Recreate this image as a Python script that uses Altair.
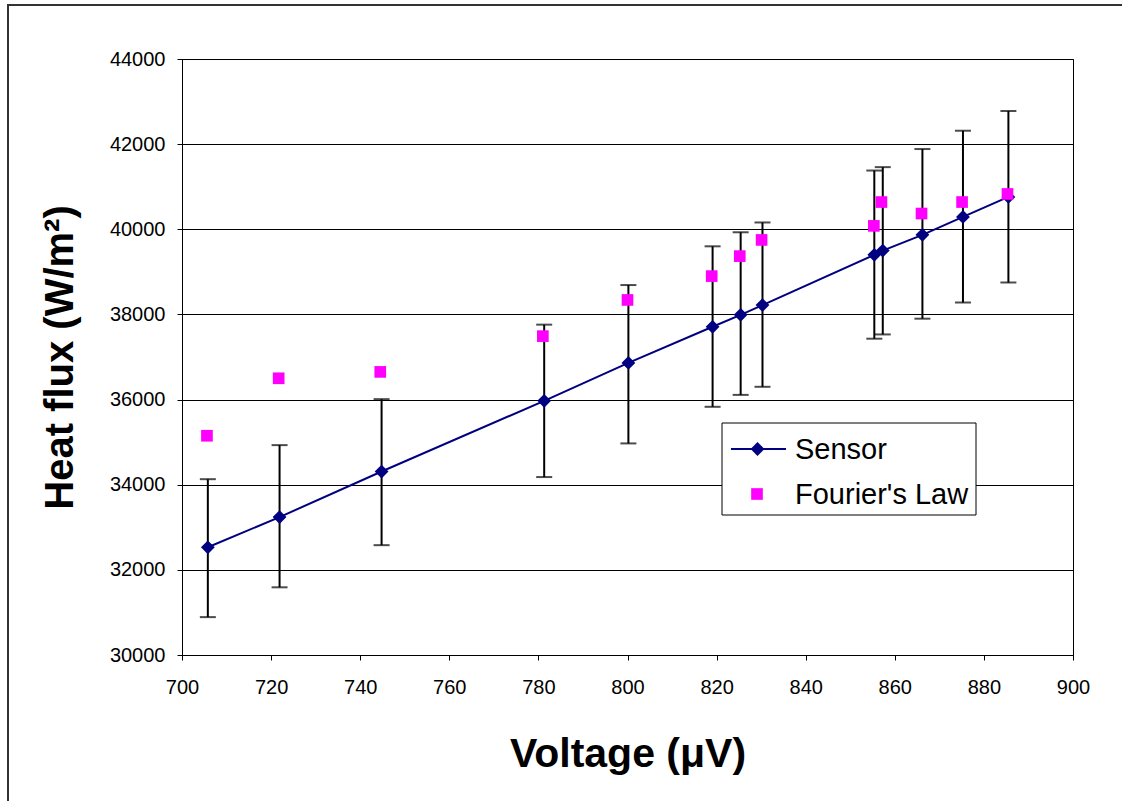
import altair as alt
import pandas as pd

# ---- data ----
voltage = [705.8, 721.9, 744.8, 781.3, 800.2, 819.1, 825.4, 830.3, 855.4, 857.3, 866.2, 875.3, 885.5]
sensor = [32530, 33240, 34310, 35970, 36860, 37710, 37990, 38220, 39400, 39500, 39870, 40290, 40760]
err_high = [34130, 34930, 36010, 37760, 38690, 39600, 39930, 40160, 41380, 41460, 41885, 42315, 42778]
err_low = [30890, 31590, 32580, 34180, 34970, 35830, 36110, 36300, 37430, 37530, 37900, 38280, 38750]

fourier_v = [705.6, 721.7, 744.5, 781.0, 800.0, 818.9, 825.2, 830.1, 855.3, 857.0, 866.0, 875.1, 885.3]
fourier = [35150, 36500, 36650, 37490, 38340, 38900, 39370, 39750, 40080, 40640, 40370, 40640, 40830]

series_names = ["Sensor", "Fourier's Law"]
x_ticks = [700, 720, 740, 760, 780, 800, 820, 840, 860, 880, 900]
y_ticks = [30000, 32000, 34000, 36000, 38000, 40000, 42000, 44000]

NAVY = "#000080"
MAGENTA = "#FF00FF"
FONT = "Liberation Sans"

sdf = pd.DataFrame({"v": voltage, "q": sensor, "hi": err_high, "lo": err_low})
fdf = pd.DataFrame({"v": fourier_v, "q": fourier})
one = pd.DataFrame({"k": [0]})

W, H = 891, 596

xscale = alt.Scale(domain=[700, 900], nice=False, zero=False)
yscale = alt.Scale(domain=[30000, 44000], nice=False, zero=False)

x_axis = alt.Axis(
    title="Voltage (μV)", values=x_ticks, grid=False, format="d",
    labelFontSize=20, labelFont=FONT, labelColor="#000", labelBaseline="alphabetic",
    labelPadding=33, labelFlush=False, labelOverlap=False,
    tickSize=5, tickColor="#000", domainColor="#000",
    titleFontSize=41, titleFont=FONT, titleFontWeight="bold", titleColor="#000",
    titleBaseline="alphabetic", titleY=111, titleX=W / 2,
)
y_axis = alt.Axis(
    title="Heat flux (W/m²)", values=y_ticks, grid=True, gridColor="#000", gridWidth=1,
    format="d", labelFontSize=20, labelFont=FONT, labelColor="#000", labelPadding=12,
    labelFlush=False, labelOverlap=False,
    tickSize=5, tickColor="#000", domainColor="#000",
    titleFontSize=40, titleFont=FONT, titleFontWeight="bold", titleColor="#000",
    titleBaseline="alphabetic", titleX=-110, titleY=H / 2, titleAngle=-90,
)

X = alt.X("v:Q", scale=xscale, axis=x_axis)
Y = alt.Y("q:Q", scale=yscale, axis=y_axis)

base_s = alt.Chart(sdf)

err_rule = base_s.mark_rule(color="#000", strokeWidth=2).encode(
    x=alt.X("v:Q", scale=xscale), y=alt.Y("lo:Q", scale=yscale), y2="hi:Q"
)
cap_hi = base_s.mark_tick(color="#000", orient="horizontal", size=16, thickness=2).encode(
    x=alt.X("v:Q", scale=xscale), y=alt.Y("hi:Q", scale=yscale)
)
cap_lo = base_s.mark_tick(color="#000", orient="horizontal", size=16, thickness=2).encode(
    x=alt.X("v:Q", scale=xscale), y=alt.Y("lo:Q", scale=yscale)
)

sensor_line = base_s.mark_line(
    color=NAVY, strokeWidth=2,
    point=alt.OverlayMarkDef(shape="diamond", filled=True, size=190, color=NAVY, opacity=1),
).encode(x=X, y=Y)

fourier_pts = alt.Chart(fdf).mark_point(
    shape="square", filled=True, size=136, color=MAGENTA, opacity=1
).encode(x=alt.X("v:Q", scale=xscale), y=alt.Y("q:Q", scale=yscale))

# outer frame of the whole figure (cut by the window at right/bottom)
frame = alt.Chart(one).mark_rect(fillOpacity=0, stroke="#333", strokeWidth=2).encode(
    x=alt.value(-174), x2=alt.value(1200), y=alt.value(-54), y2=alt.value(900)
)

# legend
leg_box = alt.Chart(one).mark_rect(fill="white", stroke="#000", strokeWidth=1).encode(
    x=alt.value(540), x2=alt.value(794), y=alt.value(364), y2=alt.value(456)
)
leg_line = alt.Chart(one).mark_rule(color=NAVY, strokeWidth=2).encode(
    x=alt.value(549), x2=alt.value(604), y=alt.value(390)
)
leg_diamond = alt.Chart(one).mark_point(shape="diamond", filled=True, size=190, color=NAVY, opacity=1).encode(
    x=alt.value(575.5), y=alt.value(390)
)
leg_square = alt.Chart(one).mark_point(shape="square", filled=True, size=136, color=MAGENTA, opacity=1).encode(
    x=alt.value(575), y=alt.value(435)
)
leg_t1 = alt.Chart(one).mark_text(
    text=series_names[0], font=FONT, fontSize=29, align="left", baseline="alphabetic", color="#000"
).encode(x=alt.value(613), y=alt.value(400))
leg_t2 = alt.Chart(one).mark_text(
    text=series_names[1], font=FONT, fontSize=29, align="left", baseline="alphabetic", color="#000"
).encode(x=alt.value(613), y=alt.value(445))

chart = alt.layer(
    sensor_line.mark_line(opacity=0).encode(x=X, y=Y),
    err_rule, cap_hi, cap_lo, sensor_line, fourier_pts,
    leg_box, leg_line, leg_diamond, leg_square, leg_t1, leg_t2, frame,
).properties(
    width=W, height=H,
    autosize=alt.AutoSizeParams(type="none"),
    padding={"left": 182, "top": 59, "right": 49, "bottom": 146},
    background="white",
).configure_view(stroke="#000", strokeWidth=1)

chart.save("out.html", embed_options={"renderer": "svg", "actions": False})
